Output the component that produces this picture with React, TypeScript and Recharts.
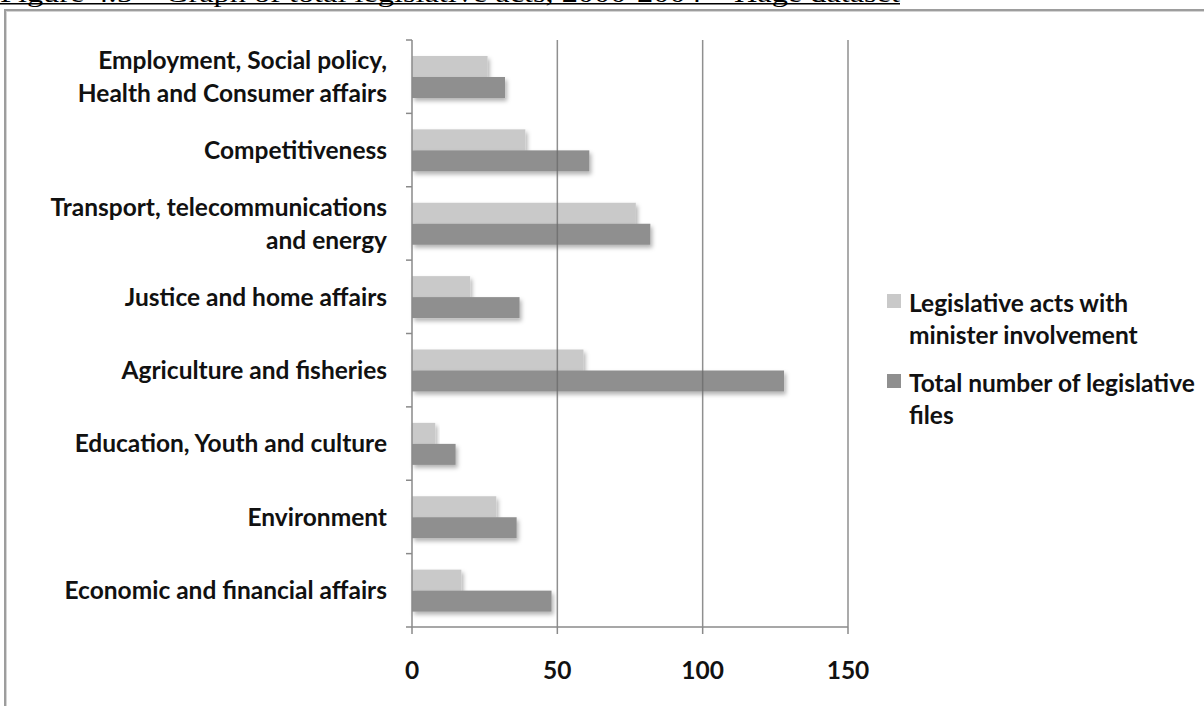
import React from "react";
import { BarChart, Bar, XAxis, YAxis, Legend, ReferenceLine } from "recharts";

// Council configurations, top to bottom; "\n" marks a line break in the label
const categories = [
  "Employment, Social policy,\nHealth and Consumer affairs",
  "Competitiveness",
  "Transport, telecommunications\nand energy",
  "Justice and home affairs",
  "Agriculture and fisheries",
  "Education, Youth and culture",
  "Environment",
  "Economic and financial affairs",
];

const ministerActs = [26, 39, 77, 20, 59, 8, 29, 17];
const totalFiles = [32, 61, 82, 37, 128, 15, 36, 48];

const xTicks = [0, 50, 100, 150];

const seriesNames = [
  "Legislative acts with\nminister involvement",
  "Total number of legislative\nfiles",
];

const caption =
  "Figure 4.5 \u2013 Graph of total legislative acts, 2000-2004 \u2013 Hage dataset";

const data = categories.map((name, i) => ({
  name,
  minister: ministerActs[i],
  total: totalFiles[i],
}));

const W = 1204;
const H = 706;
const PLOT_TOP = 40;
const PLOT_BOTTOM = 627;
const PLOT_LEFT = 412;
const PLOT_RIGHT = 848;
const BAND = (PLOT_BOTTOM - PLOT_TOP) / categories.length;

const LIGHT = "#c9c9c9";
const DARK = "#8f8f8f";
const AXIS = "#8a8a8a";
const FONT = "Lato, 'Open Sans', sans-serif";
const FONT_SIZE = 24.5;

const CategoryTick = (props: any) => {
  const { y, payload, index } = props;
  const lines = String(payload.value).split("\n");
  const lineGap = 33;
  const first = -((lines.length - 1) * lineGap) / 2;
  const textX = 387;
  return (
    <g>
      <line
        x1={PLOT_LEFT - 6}
        x2={PLOT_LEFT}
        y1={y - BAND / 2}
        y2={y - BAND / 2}
        stroke={AXIS}
        strokeWidth={1.5}
      />
      {index === categories.length - 1 && (
        <line
          x1={PLOT_LEFT - 6}
          x2={PLOT_LEFT}
          y1={y + BAND / 2}
          y2={y + BAND / 2}
          stroke={AXIS}
          strokeWidth={1.5}
        />
      )}
      <text
        textAnchor="end"
        fontFamily={FONT}
        fontWeight={700}
        fontSize={FONT_SIZE}
        fill="#111"
      >
        {lines.map((line, i) => (
          <tspan key={i} x={textX} y={y + first + i * lineGap} dy="0.36em">
            {line}
          </tspan>
        ))}
      </text>
    </g>
  );
};

const ValueTick = (props: any) => {
  const { x, payload } = props;
  return (
    <text
      x={x}
      y={PLOT_BOTTOM + 52}
      textAnchor="middle"
      fontFamily={FONT}
      fontWeight={700}
      fontSize={FONT_SIZE}
      fill="#111"
    >
      {payload.value}
    </text>
  );
};

const ShadowBar = (props: any) => {
  const { x, y, width, height, fill } = props;
  if (!width || width <= 0) return null;
  return (
    <rect
      x={x}
      y={y}
      width={width}
      height={height}
      fill={fill}
      filter="url(#barShadow)"
    />
  );
};

const LegendBox = (props: any) => {
  const { payload } = props;
  return (
    <div
      style={{
        fontFamily: FONT,
        fontWeight: 700,
        fontSize: FONT_SIZE,
        lineHeight: "32px",
        color: "#111",
      }}
    >
      {(payload || []).map((entry: any, i: number) => (
        <div
          key={i}
          style={{ display: "flex", alignItems: "flex-start", marginBottom: 16 }}
        >
          <span
            style={{
              width: 14,
              height: 14,
              background: entry.color,
              marginTop: 7,
              marginRight: 8,
              flex: "none",
            }}
          />
          <div style={{ whiteSpace: "pre" }}>{entry.value}</div>
        </div>
      ))}
    </div>
  );
};

export default function App() {
  return (
    <div
      style={{
        position: "absolute",
        left: 0,
        top: 0,
        width: W,
        height: H,
        overflow: "hidden",
        background: "#fff",
      }}
    >
      <svg width={0} height={0} style={{ position: "absolute" }}>
        <defs>
          <filter id="barShadow" x="-10%" y="-40%" width="130%" height="200%">
            <feDropShadow
              dx={2}
              dy={3}
              stdDeviation={2}
              floodColor="#000"
              floodOpacity={0.3}
            />
          </filter>
        </defs>
      </svg>

      <svg
        width={W}
        height={12}
        style={{ position: "absolute", left: 0, top: 0 }}
      >
        <text
          x={0}
          y={2}
          fontFamily="'Liberation Serif', serif"
          fontSize={26}
          textLength={900}
          lengthAdjust="spacingAndGlyphs"
          fill="#000"
        >
          {caption}
        </text>
        <line x1={0} x2={900} y1={3.8} y2={3.8} stroke="#000" strokeWidth={1.5} />
      </svg>

      <div
        style={{
          position: "absolute",
          left: 4,
          top: 9,
          width: 1300,
          height: 800,
          borderLeft: "2px solid #9d9d9d",
          borderTop: "2px solid #9d9d9d",
          boxShadow: "inset 1px 1px 0 #d4d4d4",
        }}
      />

      <div style={{ position: "absolute", left: 0, top: 0 }}>
        <BarChart
          width={W}
          height={H}
          data={data}
          layout="vertical"
          margin={{ top: PLOT_TOP, right: W - PLOT_RIGHT, bottom: 39, left: 0 }}
          barGap={0}
          barSize={21}
        >
          <XAxis
            type="number"
            domain={[0, 150]}
            ticks={xTicks}
            height={H - PLOT_BOTTOM - 39}
            axisLine={{ stroke: AXIS, strokeWidth: 1.5 }}
            tickLine={{ stroke: AXIS, strokeWidth: 1.5 }}
            tickSize={7}
            tick={<ValueTick />}
          />
          <YAxis
            type="category"
            dataKey="name"
            width={PLOT_LEFT}
            interval={0}
            axisLine={{ stroke: AXIS, strokeWidth: 1.5 }}
            tickLine={false}
            tick={<CategoryTick />}
          />
          <Legend
            layout="vertical"
            align="center"
            verticalAlign="middle"
            wrapperStyle={{ left: 887, top: 287, width: 317 }}
            content={<LegendBox />}
          />
          <Bar
            dataKey="minister"
            name={seriesNames[0]}
            fill={LIGHT}
            shape={<ShadowBar />}
            isAnimationActive={false}
          />
          <Bar
            dataKey="total"
            name={seriesNames[1]}
            fill={DARK}
            shape={<ShadowBar />}
            isAnimationActive={false}
          />
          {xTicks.slice(1).map((v) => (
            <ReferenceLine
              key={v}
              x={v}
              stroke="#6a6a6a"
              strokeOpacity={0.75}
              strokeWidth={1.5}
            />
          ))}
        </BarChart>
      </div>
    </div>
  );
}
